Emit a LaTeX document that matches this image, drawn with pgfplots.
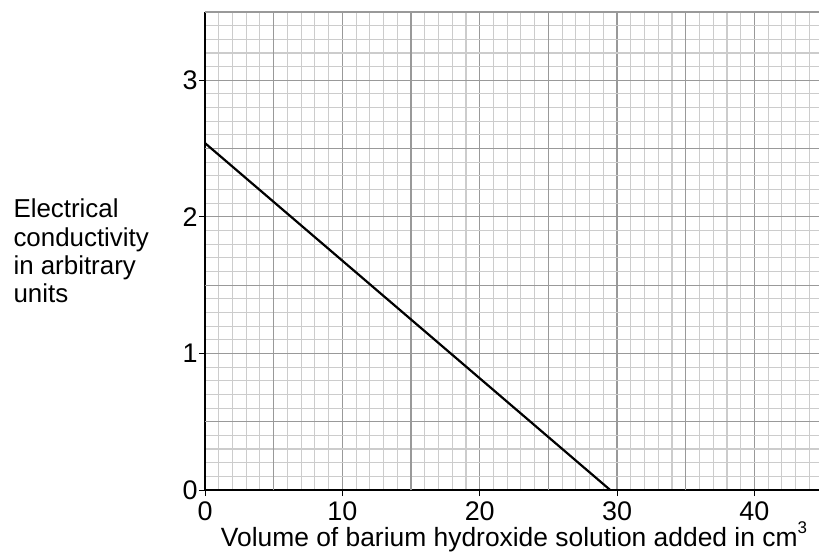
\documentclass[border=0pt]{standalone}
\usepackage{fontspec}
\setmainfont{Liberation Sans}
\usepackage{pgfplots}
\pgfplotsset{compat=1.18}
\begin{document}
\begin{tikzpicture}
\useasboundingbox (-205bp,-68bp) rectangle (614bp,490bp);
\begin{axis}[
    at={(0,0)}, anchor=south west,
    scale only axis,
    width=614bp, height=478bp,
    xmin=0, xmax=44.7,
    ymin=0, ymax=3.5,
    axis lines=left,
    axis line style={-, black, line width=1.6bp},
    xtick={0,10,...,40},
    xticklabels={0,10,20,30,40},
    ytick={0,1,2,3},
    yticklabels={0,1,2,3},
    extra x ticks={5,15,25,35},
    extra x tick labels={},
    extra y ticks={0.5,1.5,2.5,3.5},
    extra y tick labels={},
    extra tick style={major tick length=0pt, grid=major,
        major grid style={black!40, line width=1.2bp}},
    minor xtick={0,1,...,44},
    minor ytick={0,0.1,...,3.5},
    grid=both,
    minor grid style={black!20, line width=1.1bp},
    major grid style={black!40, line width=1.2bp},
    tick align=outside,
    major tick length=6bp,
    minor tick length=0pt,
    tick style={black, line width=1bp},
    tick label style={font=\fontsize{27}{30}\selectfont},
    xticklabel style={yshift=-2bp},
    yticklabel style={xshift=2bp},
    xlabel={Volume of barium hydroxide solution added in cm\smash{\raisebox{0.5em}{\fontsize{17}{17}\selectfont 3}}},
    xlabel style={font=\fontsize{26.5}{30}\selectfont, yshift=6bp, xshift=2bp},
]
\addplot[black, line width=2.2bp] coordinates {(0,2.54) (29.5,0)};
\end{axis}
\node[anchor=west, align=left, font=\fontsize{26}{28.5}\selectfont] at (-195bp,239bp)
  {Electrical\\conductivity\\in arbitrary\\units};
\end{tikzpicture}
\end{document}
